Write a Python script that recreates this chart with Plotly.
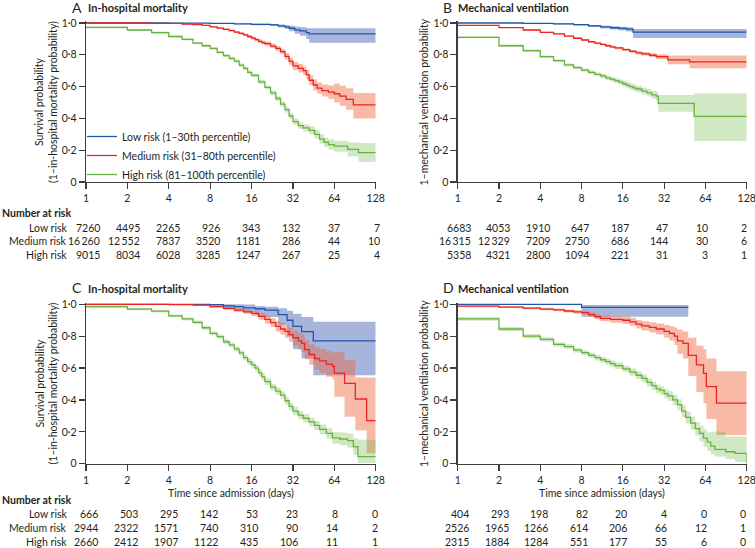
import math
import plotly.graph_objects as go

# ---------------- data ----------------
risk_ticks = [1, 2, 4, 8, 16, 32, 64, 128]
y_tick_vals = [0, 0.2, 0.4, 0.6, 0.8, 1.0]
y_tick_text = ["0", "0·2", "0·4", "0·6", "0·8", "1·0"]
group_names = ["Low risk (1–30th percentile)", "Medium risk (31–80th percentile)", "High risk (81–100th percentile)"]
row_labels = ["Low risk", "Medium risk", "High risk"]

# Panel A  In-hospital mortality
A_low_t = [1, 4, 8, 12, 16, 22, 25, 28, 30, 33, 36, 40, 42, 128]
A_low_s = [1.0, 0.999, 0.997, 0.994, 0.991, 0.988, 0.982, 0.976, 0.967, 0.957, 0.95, 0.94, 0.932, 0.932]
A_low_lo = [1.0, 0.998, 0.995, 0.99, 0.986, 0.981, 0.972, 0.962, 0.948, 0.932, 0.92, 0.9, 0.876, 0.876]
A_low_hi = [1.0, 1.0, 0.999, 0.997, 0.995, 0.994, 0.99, 0.987, 0.982, 0.977, 0.973, 0.969, 0.967, 0.967]

A_med_t = [1, 3, 5, 6, 7, 8, 9, 10, 11, 12, 13, 14, 15, 16, 17, 18, 19, 20, 22, 24, 26, 28, 30, 32, 35, 38, 40, 42, 45, 48, 52, 58, 64, 70, 78, 88, 128]
A_med_s = [1.0, 0.998, 0.993, 0.99, 0.985, 0.975, 0.968, 0.96, 0.952, 0.943, 0.935, 0.925, 0.915, 0.905, 0.895, 0.885, 0.877, 0.87, 0.855, 0.84, 0.82, 0.79, 0.76, 0.73, 0.715, 0.7, 0.675, 0.64, 0.61, 0.59, 0.575, 0.565, 0.555, 0.54, 0.52, 0.485, 0.485]
A_med_lo = [1.0, 0.996, 0.99, 0.987, 0.982, 0.971, 0.963, 0.955, 0.946, 0.937, 0.928, 0.917, 0.906, 0.895, 0.884, 0.873, 0.864, 0.857, 0.841, 0.825, 0.803, 0.77, 0.738, 0.705, 0.688, 0.672, 0.645, 0.608, 0.576, 0.555, 0.537, 0.523, 0.5, 0.48, 0.455, 0.40, 0.40]
A_med_hi = [1.0, 1.0, 0.996, 0.993, 0.988, 0.979, 0.973, 0.965, 0.958, 0.949, 0.942, 0.933, 0.924, 0.915, 0.906, 0.897, 0.89, 0.883, 0.869, 0.855, 0.837, 0.81, 0.782, 0.755, 0.742, 0.728, 0.705, 0.672, 0.644, 0.625, 0.613, 0.607, 0.62, 0.605, 0.59, 0.56, 0.56]

A_high_t = [1, 2, 3, 4, 5, 6, 7, 8, 9, 10, 11, 12, 13, 14, 15, 16, 18, 20, 22, 24, 26, 28, 30, 32, 35, 38, 42, 46, 50, 54, 58, 64, 80, 96, 128]
A_high_s = [0.972, 0.956, 0.939, 0.915, 0.897, 0.873, 0.857, 0.84, 0.815, 0.795, 0.778, 0.76, 0.735, 0.715, 0.69, 0.67, 0.63, 0.595, 0.56, 0.525, 0.49, 0.455, 0.415, 0.38, 0.355, 0.34, 0.325, 0.3, 0.27, 0.25, 0.235, 0.225, 0.205, 0.185, 0.185]
A_high_lo = [0.966, 0.95, 0.932, 0.908, 0.89, 0.866, 0.849, 0.832, 0.806, 0.786, 0.768, 0.75, 0.724, 0.703, 0.678, 0.658, 0.617, 0.581, 0.545, 0.509, 0.473, 0.437, 0.396, 0.36, 0.334, 0.318, 0.3, 0.273, 0.241, 0.22, 0.203, 0.19, 0.16, 0.125, 0.125]
A_high_hi = [0.978, 0.962, 0.946, 0.922, 0.904, 0.88, 0.865, 0.848, 0.824, 0.804, 0.788, 0.77, 0.746, 0.727, 0.702, 0.682, 0.643, 0.609, 0.575, 0.541, 0.507, 0.473, 0.434, 0.4, 0.376, 0.362, 0.35, 0.327, 0.299, 0.28, 0.267, 0.26, 0.25, 0.245, 0.245]

# Panel B  Mechanical ventilation
B_low_t = [1, 3, 5, 7, 9, 11, 13, 15, 17, 19, 128]
B_low_s = [1.0, 0.998, 0.995, 0.99, 0.982, 0.975, 0.97, 0.966, 0.962, 0.942, 0.942]
B_low_lo = [1.0, 0.996, 0.991, 0.985, 0.975, 0.966, 0.959, 0.953, 0.947, 0.905, 0.905]
B_low_hi = [1.0, 1.0, 0.998, 0.994, 0.988, 0.983, 0.979, 0.976, 0.973, 0.962, 0.962]

B_med_t = [1, 2, 3, 4, 5, 6, 7, 8, 9, 10, 11, 12, 13, 14, 16, 18, 20, 22, 25, 28, 34, 49, 128]
B_med_s = [0.985, 0.971, 0.956, 0.941, 0.931, 0.918, 0.904, 0.893, 0.882, 0.873, 0.865, 0.857, 0.85, 0.843, 0.832, 0.822, 0.812, 0.806, 0.797, 0.788, 0.768, 0.755, 0.755]
B_med_lo = [0.982, 0.968, 0.953, 0.937, 0.927, 0.914, 0.9, 0.888, 0.877, 0.867, 0.859, 0.85, 0.843, 0.835, 0.824, 0.813, 0.802, 0.795, 0.785, 0.773, 0.74, 0.715, 0.715]
B_med_hi = [0.988, 0.974, 0.959, 0.945, 0.935, 0.922, 0.908, 0.898, 0.887, 0.879, 0.871, 0.864, 0.857, 0.851, 0.84, 0.831, 0.822, 0.817, 0.809, 0.803, 0.796, 0.795, 0.795]

B_high_t = [1, 2, 3, 4, 5, 6, 7, 8, 9, 10, 11, 12, 13, 14, 15, 16, 17, 18, 19, 20, 22, 24, 26, 28, 29, 53, 128]
B_high_s = [0.91, 0.857, 0.826, 0.788, 0.763, 0.736, 0.719, 0.704, 0.69, 0.677, 0.667, 0.655, 0.645, 0.637, 0.628, 0.618, 0.608, 0.6, 0.592, 0.585, 0.572, 0.56, 0.548, 0.54, 0.495, 0.413, 0.413]
B_high_lo = [0.904, 0.85, 0.818, 0.78, 0.754, 0.727, 0.709, 0.694, 0.679, 0.665, 0.654, 0.641, 0.63, 0.621, 0.611, 0.6, 0.589, 0.58, 0.571, 0.564, 0.55, 0.537, 0.523, 0.512, 0.442, 0.258, 0.258]
B_high_hi = [0.916, 0.864, 0.834, 0.796, 0.772, 0.745, 0.729, 0.714, 0.701, 0.689, 0.68, 0.669, 0.66, 0.653, 0.645, 0.636, 0.627, 0.62, 0.613, 0.606, 0.594, 0.583, 0.573, 0.568, 0.547, 0.558, 0.558]

# Panel C  In-hospital mortality
C_low_t = [1, 8, 10, 12, 14, 17, 20, 25, 29, 32, 37, 45, 128]
C_low_s = [1.0, 0.998, 0.99, 0.985, 0.978, 0.972, 0.964, 0.935, 0.9, 0.862, 0.828, 0.77, 0.77]
C_low_lo = [1.0, 0.99, 0.975, 0.965, 0.95, 0.935, 0.92, 0.87, 0.8, 0.72, 0.66, 0.555, 0.555]
C_low_hi = [1.0, 1.0, 1.0, 1.0, 0.998, 0.99, 0.985, 0.975, 0.96, 0.94, 0.92, 0.89, 0.89]

C_med_t = [1, 4, 6, 8, 10, 12, 14, 16, 18, 20, 22, 24, 26, 28, 30, 32, 35, 37, 39, 42, 46, 50, 56, 62, 64, 76, 91, 110, 128]
C_med_s = [1.0, 0.998, 0.995, 0.985, 0.975, 0.963, 0.953, 0.943, 0.925, 0.905, 0.885, 0.862, 0.845, 0.83, 0.81, 0.79, 0.77, 0.755, 0.715, 0.685, 0.66, 0.645, 0.625, 0.61, 0.568, 0.504, 0.406, 0.27, 0.27]
C_med_lo = [1.0, 0.995, 0.99, 0.978, 0.966, 0.952, 0.94, 0.925, 0.903, 0.88, 0.857, 0.83, 0.81, 0.79, 0.765, 0.74, 0.715, 0.7, 0.655, 0.62, 0.59, 0.57, 0.545, 0.53, 0.42, 0.295, 0.21, 0.065, 0.065]
C_med_hi = [1.0, 1.0, 0.998, 0.99, 0.983, 0.975, 0.967, 0.96, 0.946, 0.93, 0.913, 0.895, 0.882, 0.87, 0.852, 0.835, 0.82, 0.81, 0.775, 0.75, 0.73, 0.72, 0.705, 0.69, 0.70, 0.65, 0.54, 0.54, 0.54]

C_high_t = [1, 2, 3, 4, 5, 6, 7, 8, 9, 10, 11, 12, 13, 14, 15, 16, 17, 18, 19, 20, 22, 24, 26, 28, 30, 32, 35, 38, 42, 46, 50, 56, 62, 70, 80, 88, 95, 128]
C_high_s = [0.985, 0.97, 0.957, 0.927, 0.908, 0.887, 0.853, 0.818, 0.797, 0.765, 0.745, 0.72, 0.695, 0.665, 0.64, 0.62, 0.6, 0.57, 0.545, 0.515, 0.48, 0.455, 0.43, 0.395, 0.36, 0.33, 0.305, 0.285, 0.262, 0.24, 0.215, 0.19, 0.162, 0.155, 0.145, 0.107, 0.045, 0.045]
C_high_lo = [0.979, 0.963, 0.949, 0.918, 0.898, 0.876, 0.841, 0.806, 0.784, 0.751, 0.73, 0.704, 0.678, 0.647, 0.621, 0.6, 0.579, 0.549, 0.523, 0.493, 0.458, 0.433, 0.407, 0.371, 0.336, 0.305, 0.279, 0.258, 0.235, 0.212, 0.185, 0.158, 0.125, 0.115, 0.1, 0.055, 0.005, 0.005]
C_high_hi = [0.991, 0.977, 0.965, 0.936, 0.918, 0.898, 0.865, 0.83, 0.81, 0.779, 0.76, 0.736, 0.712, 0.683, 0.659, 0.64, 0.621, 0.591, 0.567, 0.537, 0.502, 0.477, 0.453, 0.419, 0.384, 0.355, 0.331, 0.312, 0.289, 0.268, 0.245, 0.222, 0.199, 0.195, 0.19, 0.16, 0.15, 0.15]

# Panel D  Mechanical ventilation
D_low_t = [1, 8, 48]
D_low_s = [1.0, 0.981, 0.981]
D_low_lo = [1.0, 0.922, 0.922]
D_low_hi = [1.0, 0.996, 0.996]

D_med_t = [1, 2, 3, 4, 5, 6, 7, 8, 9, 10, 11, 13, 16, 18, 20, 22, 25, 28, 32, 35, 38, 40, 44, 48, 55, 62, 65, 77, 128]
D_med_s = [0.988, 0.982, 0.976, 0.97, 0.965, 0.958, 0.953, 0.948, 0.935, 0.922, 0.912, 0.905, 0.9, 0.89, 0.875, 0.865, 0.855, 0.845, 0.83, 0.818, 0.8, 0.77, 0.755, 0.68, 0.62, 0.567, 0.483, 0.38, 0.38]
D_med_lo = [0.982, 0.976, 0.969, 0.962, 0.956, 0.948, 0.942, 0.936, 0.921, 0.906, 0.894, 0.885, 0.877, 0.865, 0.848, 0.836, 0.823, 0.81, 0.79, 0.772, 0.745, 0.69, 0.66, 0.55, 0.45, 0.38, 0.28, 0.18, 0.18]
D_med_hi = [0.993, 0.988, 0.983, 0.978, 0.974, 0.968, 0.964, 0.96, 0.949, 0.938, 0.93, 0.925, 0.923, 0.915, 0.902, 0.894, 0.887, 0.88, 0.87, 0.862, 0.855, 0.84, 0.83, 0.79, 0.74, 0.72, 0.66, 0.58, 0.58]

D_high_t = [1, 2, 3, 4, 5, 6, 7, 8, 9, 10, 11, 12, 13, 14, 16, 18, 20, 22, 24, 26, 28, 30, 32, 34, 37, 40, 43, 46, 50, 54, 58, 62, 66, 70, 75, 90, 105, 128]
D_high_s = [0.908, 0.845, 0.8, 0.78, 0.748, 0.735, 0.712, 0.697, 0.68, 0.665, 0.652, 0.64, 0.628, 0.615, 0.595, 0.575, 0.555, 0.535, 0.51, 0.49, 0.47, 0.46, 0.44, 0.425, 0.4, 0.37, 0.33, 0.29, 0.255, 0.22, 0.19, 0.16, 0.135, 0.11, 0.09, 0.075, 0.065, 0.0]
D_high_lo = [0.896, 0.833, 0.787, 0.767, 0.735, 0.721, 0.698, 0.682, 0.664, 0.648, 0.634, 0.621, 0.608, 0.594, 0.575, 0.553, 0.532, 0.511, 0.485, 0.464, 0.443, 0.432, 0.41, 0.394, 0.367, 0.335, 0.293, 0.252, 0.215, 0.178, 0.14, 0.105, 0.08, 0.06, 0.045, 0.03, 0.01, 0.01]
D_high_hi = [0.92, 0.857, 0.813, 0.793, 0.761, 0.749, 0.726, 0.712, 0.696, 0.682, 0.67, 0.659, 0.648, 0.636, 0.615, 0.597, 0.578, 0.559, 0.535, 0.516, 0.497, 0.488, 0.47, 0.456, 0.433, 0.405, 0.367, 0.328, 0.295, 0.262, 0.24, 0.215, 0.195, 0.2, 0.2, 0.17, 0.17, 0.17]

# Number at risk (at 1, 2, 4, ... 128 days)
A_low_n = [7260, 4495, 2265, 926, 343, 132, 37, 7]
A_med_n = [16260, 12552, 7837, 3520, 1181, 286, 44, 10]
A_high_n = [9015, 8034, 6028, 3285, 1247, 267, 25, 4]
B_low_n = [6683, 4053, 1910, 647, 187, 47, 10, 2]
B_med_n = [16315, 12329, 7209, 2750, 686, 144, 30, 6]
B_high_n = [5358, 4321, 2800, 1094, 221, 31, 3, 1]
C_low_n = [666, 503, 295, 142, 53, 23, 8, 0]
C_med_n = [2944, 2322, 1571, 740, 310, 90, 14, 2]
C_high_n = [2660, 2412, 1907, 1122, 435, 106, 11, 1]
D_low_n = [404, 293, 198, 82, 20, 4, 0, 0]
D_med_n = [2526, 1965, 1266, 614, 206, 66, 12, 1]
D_high_n = [2315, 1884, 1284, 551, 177, 55, 6, 0]

# ---------------- style ----------------
FONT = "Lato, 'Liberation Sans', Arial, sans-serif"
TXT = "#231f20"
AX = "#3d3d3d"
LINE_COLORS = ["#1f56a5", "#ec2326", "#69b23d"]
BAND_COLORS = ["rgba(60,90,180,0.45)", "rgba(240,100,60,0.45)", "rgba(110,185,70,0.32)"]

W, H = 755, 548


def px_x(p):
    return p / W


def px_y(p):
    return 1 - p / H


panels = [
    dict(letter="A", title="In-hospital mortality", xa="x", ya="y",
         series=[(A_low_t, A_low_s, A_low_lo, A_low_hi), (A_med_t, A_med_s, A_med_lo, A_med_hi), (A_high_t, A_high_s, A_high_lo, A_high_hi)],
         counts=[A_low_n, A_med_n, A_high_n]),
    dict(letter="B", title="Mechanical ventilation", xa="x2", ya="y2",
         series=[(B_low_t, B_low_s, B_low_lo, B_low_hi), (B_med_t, B_med_s, B_med_lo, B_med_hi), (B_high_t, B_high_s, B_high_lo, B_high_hi)],
         counts=[B_low_n, B_med_n, B_high_n]),
    dict(letter="C", title="In-hospital mortality", xa="x3", ya="y3",
         series=[(C_low_t, C_low_s, C_low_lo, C_low_hi), (C_med_t, C_med_s, C_med_lo, C_med_hi), (C_high_t, C_high_s, C_high_lo, C_high_hi)],
         counts=[C_low_n, C_med_n, C_high_n]),
    dict(letter="D", title="Mechanical ventilation", xa="x4", ya="y4",
         series=[(D_low_t, D_low_s, D_low_lo, D_low_hi), (D_med_t, D_med_s, D_med_lo, D_med_hi), (D_high_t, D_high_s, D_high_lo, D_high_hi)],
         counts=[D_low_n, D_med_n, D_high_n]),
]

fig = go.Figure()

for pi, p in enumerate(panels):
    for gi, (t, s, lo, hi) in enumerate(p["series"]):
        assert len(t) == len(s) == len(lo) == len(hi), (p["letter"], gi)
        fig.add_trace(go.Scatter(x=t, y=lo, xaxis=p["xa"], yaxis=p["ya"], mode="lines",
                                 line=dict(width=0, shape="hv", color=BAND_COLORS[gi]),
                                 showlegend=False, hoverinfo="skip"))
        fig.add_trace(go.Scatter(x=t, y=hi, xaxis=p["xa"], yaxis=p["ya"], mode="lines",
                                 line=dict(width=0, shape="hv", color=BAND_COLORS[gi]),
                                 fill="tonexty", fillcolor=BAND_COLORS[gi],
                                 showlegend=False, hoverinfo="skip"))
    for gi, (t, s, lo, hi) in enumerate(p["series"]):
        fig.add_trace(go.Scatter(x=t, y=s, xaxis=p["xa"], yaxis=p["ya"], mode="lines",
                                 line=dict(width=1.3, shape="hv", color=LINE_COLORS[gi]),
                                 name=group_names[gi], showlegend=(pi == 0)))

xdom_left = [86 / W, 375.7 / W]
xdom_right = [457.7 / W, 746.7 / W]
ydom_top = [1 - 182 / H, 1 - 21.4 / H]
ydom_bot = [1 - 463.7 / H, 1 - 302.7 / H]

common_x = dict(type="log", range=[0, math.log10(128)], tickvals=risk_ticks,
                ticktext=[str(v) for v in risk_ticks], showline=True, linecolor=AX, linewidth=1.3,
                ticks="outside", ticklen=6, tickwidth=1.2, tickcolor=AX, showgrid=False, zeroline=False,
                tickfont=dict(size=10.5, color=TXT, family=FONT), fixedrange=True, automargin=False,
                ticklabeloverflow="allow")
common_y = dict(range=[0, 1.01], tickvals=y_tick_vals, ticktext=y_tick_text, showline=True,
                linecolor=AX, linewidth=1.3, ticks="outside", ticklen=6, tickwidth=1.2, tickcolor=AX,
                showgrid=False, zeroline=False, tickfont=dict(size=10.5, color=TXT, family=FONT),
                fixedrange=True, automargin=False)

fig.update_layout(
    template="none",
    width=W, height=H, margin=dict(l=0, r=0, t=0, b=0, autoexpand=False),
    paper_bgcolor="white", plot_bgcolor="white",
    font=dict(family=FONT, color=TXT, size=10.5),
    xaxis=dict(domain=xdom_left, anchor="y", **common_x),
    yaxis=dict(domain=ydom_top, anchor="x", **common_y),
    xaxis2=dict(domain=xdom_right, anchor="y2", **common_x),
    yaxis2=dict(domain=ydom_top, anchor="x2", **common_y),
    xaxis3=dict(domain=xdom_left, anchor="y3", **common_x),
    yaxis3=dict(domain=ydom_bot, anchor="x3", **common_y),
    xaxis4=dict(domain=xdom_right, anchor="y4", **common_x),
    yaxis4=dict(domain=ydom_bot, anchor="x4", **common_y),
    legend=dict(x=px_x(82), y=px_y(122), xanchor="left", yanchor="top", bgcolor="rgba(0,0,0,0)",
                font=dict(size=10.5, color=TXT, family=FONT), itemwidth=30, tracegroupgap=0,
                traceorder="normal", borderwidth=0),
    showlegend=True,
)

ann = []
# panel titles
title_pos = {"A": (70, 86, 7), "B": (441, 456, 7), "C": (70, 86, 287), "D": (441, 456, 287)}
for p in panels:
    lx, tx, ty = title_pos[p["letter"]]
    ann.append(dict(text=p["letter"], x=px_x(lx), y=px_y(ty), xref="paper", yref="paper",
                    xanchor="left", yanchor="middle", showarrow=False, font=dict(size=14, color=TXT)))
    ann.append(dict(text="<b>" + p["title"] + "</b>", x=px_x(tx), y=px_y(ty + 1), xref="paper", yref="paper",
                    xanchor="left", yanchor="middle", showarrow=False, font=dict(size=11, color=TXT)))

# y titles
mort_title = "Survival probability<br>(1–in-hospital mortality probability)"
vent_title = "1–mechanical ventilation probability"
for (x, y, txt) in [(46.5, 102.5, mort_title), (46.5, 384, mort_title), (424, 102.5, vent_title), (424, 384, vent_title)]:
    ann.append(dict(text=txt, x=px_x(x), y=px_y(y), xref="paper", yref="paper", textangle=-90,
                    xanchor="center", yanchor="middle", showarrow=False, font=dict(size=10.5, color=TXT)))

# x titles
for xr in ["x3 domain", "x4 domain"]:
    ann.append(dict(text="Time since admission (days)", x=0.5, y=px_y(493), xref=xr, yref="paper",
                    xanchor="center", yanchor="middle", showarrow=False, font=dict(size=10.5, color=TXT)))


def fmt(n):
    s = str(n)
    if len(s) >= 5:
        s = s[:-3] + "\u2009" + s[-3:]
    return s


# number at risk tables: right edges of the eight columns (px) and row positions
col_right = {"A": (101.5, 40.0), "C": (100.0, 40.0), "B": (472.5, 39.5), "D": (471.0, 39.6)}
table_rows = {"top": (212.5, [227.5, 241, 254.5]), "bot": (500, [514, 528, 541.5])}
for p in panels:
    key = "top" if p["letter"] in "AB" else "bot"
    hy, rows = table_rows[key]
    c0, dc = col_right[p["letter"]]
    if p["letter"] in "AC":
        ann.append(dict(text="<b>Number at risk</b>", x=0, y=px_y(hy), xref="paper", yref="paper",
                        xanchor="left", yanchor="middle", showarrow=False, font=dict(size=10.5, color=TXT)))
        for ri, lab in enumerate(row_labels):
            ann.append(dict(text=lab, x=px_x(69), y=px_y(rows[ri]), xref="paper", yref="paper",
                            xanchor="right", yanchor="middle", showarrow=False, font=dict(size=10.5, color=TXT)))
    for ri, counts in enumerate(p["counts"]):
        for ci, n in enumerate(counts):
            ann.append(dict(text=fmt(n), x=px_x(c0 + ci * dc), y=px_y(rows[ri]), xref="paper", yref="paper",
                            xanchor="right", yanchor="middle", showarrow=False,
                            font=dict(size=10.5, color=TXT)))

fig.update_layout(annotations=ann)
fig.write_html("out.html", config={"displayModeBar": False, "staticPlot": True},
               post_script="document.body.style.margin='0';document.body.style.overflow='hidden';")
